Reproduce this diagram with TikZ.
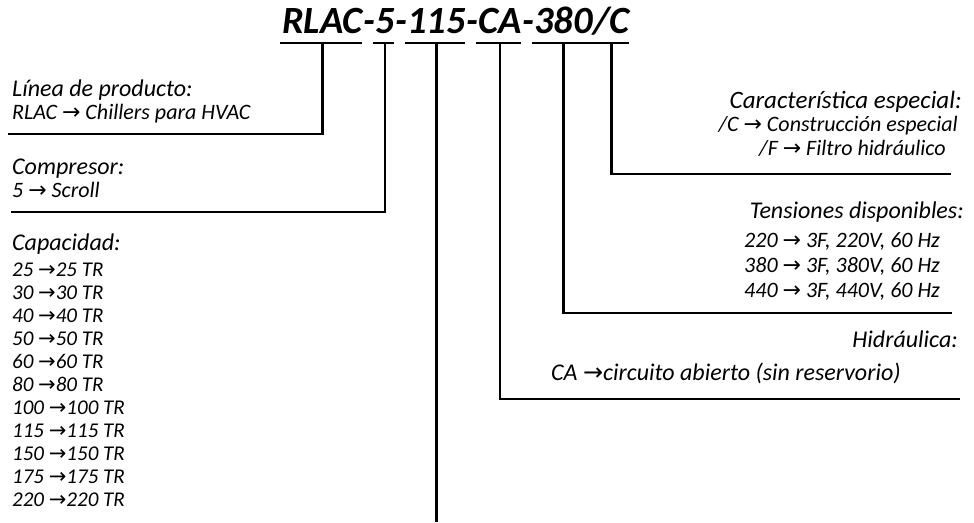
\documentclass[tikz,border=0pt]{standalone}
\usepackage{fontspec}
\setmainfont{Carlito}
\newfontfamily\arrowfont{DejaVu Sans}
\usetikzlibrary{positioning,calc}
\newcommand{\arr}{{\arrowfont\char"2192}}

\begin{document}
\begin{tikzpicture}[x=1pt,y=-1pt,
  seg/.style={inner sep=0,anchor=base west,font=\fontsize{38.5}{44}\selectfont\bfseries\itshape},
  head/.style={inner sep=0,font=\fontsize{24}{28}\selectfont\itshape},
  body/.style={inner sep=0,font=\fontsize{22}{25}\selectfont\itshape},
  item/.style={inner sep=0,anchor=base west,font=\fontsize{21}{23}\selectfont\itshape},
  wire/.style={line width=2.6pt},
  bar/.style={line width=2.6pt}]
  \useasboundingbox (0,0) rectangle (974,522);
  \coordinate (bary) at (0,43);
  \coordinate (bot) at (0,522);
  \node[seg] (rlac) at (282,33) {RLAC};
  \node[seg] (h1) at (rlac.base east) {-};
  \node[seg] (cmp) at (h1.base east) {5};
  \node[seg] (h2) at (cmp.base east) {-};
  \node[seg] (cap) at (h2.base east) {115};
  \node[seg] (h3) at (cap.base east) {-};
  \node[seg] (hyd) at (h3.base east) {CA};
  \node[seg] (h4) at (hyd.base east) {-};
  \node[seg] (volt) at (h4.base east) {380};
  \node[seg] (spc) at (volt.base east) {/C};
  \foreach \sg in {rlac,cmp,cap,hyd,volt,spc}
    \draw[bar] ($(\sg.west|-bary)+(-2,0)$) -- ($(\sg.east|-bary)+(-1,0)$);

  \node[head,anchor=base west] (linh) at (12,96) {Línea de producto:};
  \node[body,anchor=base west] (linb) at (12,119) {RLAC \arr\ Chillers para HVAC};
  \coordinate (linl) at (8,134);
  \node[head,anchor=base west] (cmph) at (12,174) {Compresor:};
  \node[body,anchor=base west] (cmpb) at (12,197) {5 \arr\ Scroll};
  \coordinate (cmpl) at (11,212);
  \node[head,anchor=base west] (caph) at (12,250) {Capacidad:};
  \foreach \val [count=\i from 0] in {25,30,40,50,60,80,100,115,150,175,220}
    \node[item] (cap\i) at (12,{276+23*\i}) {\val\ \arr\val\ TR};

  \node[head,anchor=base east,font=\fontsize{25}{28}\selectfont\itshape] (spch) at (962,108) {Característica especial:};
  \node[body,anchor=base east] (spcb1) at (958,131) {/C \arr\ Construcción especial};
  \node[body,anchor=base east] (spcb2) at (946,155) {/F \arr\ Filtro hidráulico};
  \coordinate (spcl) at (951,174);
  \node[head,anchor=base east] (volth) at (964,218) {Tensiones disponibles:};
  \foreach \val [count=\i] in {220,380,440}
    \node[body,anchor=base west] (volt\i) at (744,{222+25*\i}) {\val\ \arr\ 3F, \val V, 60 Hz};
  \coordinate (voltl) at (952,313);
  \node[head,anchor=base east] (hydh) at (958,347) {Hidráulica:};
  \node[head,anchor=base west] (hydb) at (551,380) {CA \arr circuito abierto (sin reservorio)};
  \coordinate (hydl) at (960,399);

  \draw[wire] (rlac.south|-bary) |- (linl);
  \draw[wire] (cmp.south|-bary) |- (cmpl);
  \draw[wire] (cap.south|-bary) -- (cap.south|-bot);
  \draw[wire] (hyd.south|-bary) |- (hydl);
  \draw[wire] (volt.south|-bary) |- (voltl);
  \draw[wire] (spc.south|-bary) |- (spcl);
\end{tikzpicture}
\end{document}
